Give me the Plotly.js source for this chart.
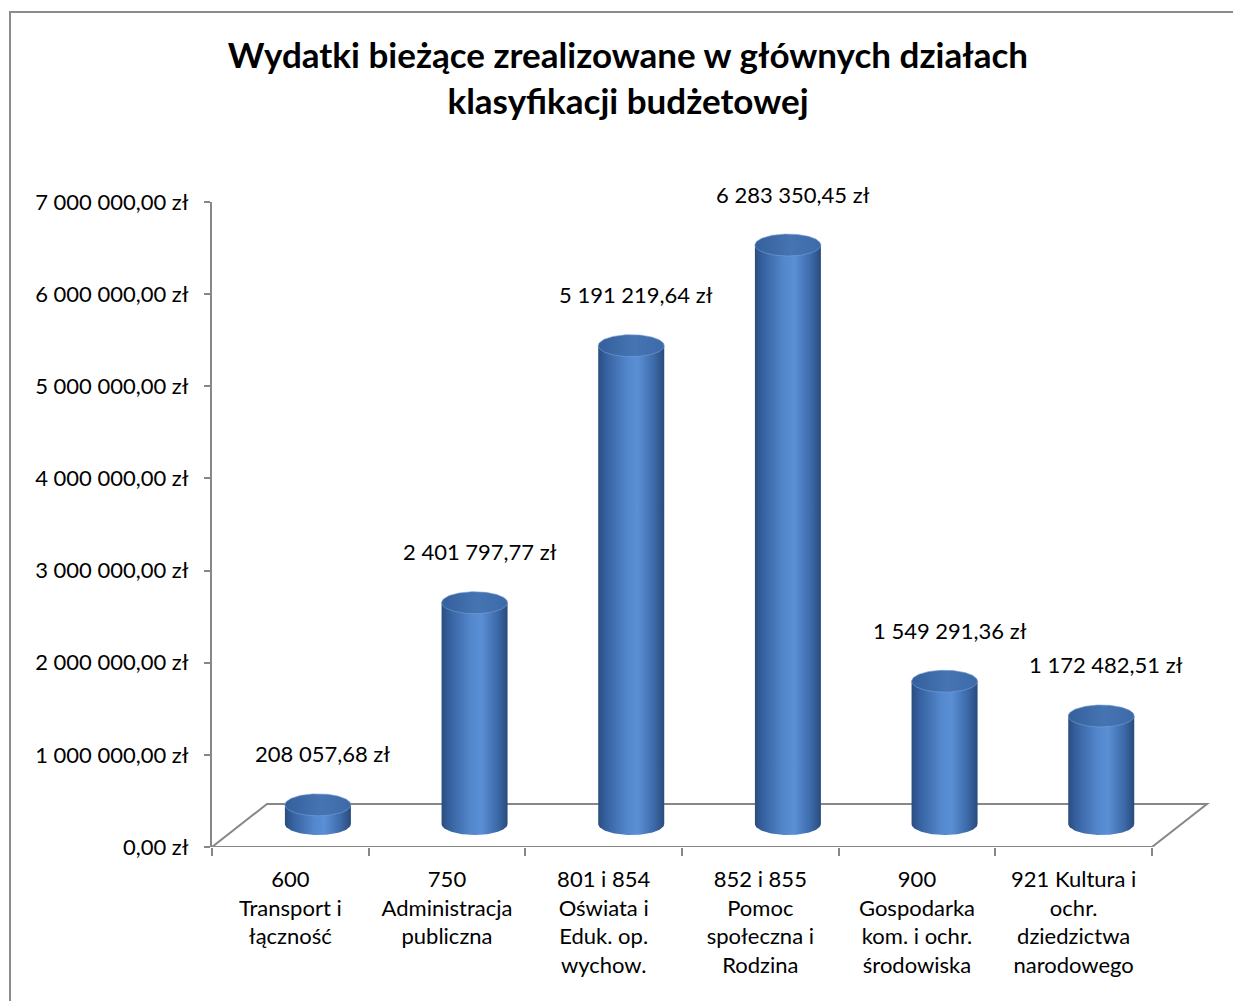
<!DOCTYPE html>
<html>
<head>
<meta charset="utf-8">
<script src="https://cdn.plot.ly/plotly-3.0.1.min.js"></script>
<style>html,body{margin:0;padding:0;background:#fff;}</style>
</head>
<body>
<div id="chart" style="width:1233px;height:1001px;"></div>
<script>
// ---- data ----
const categories = [
  "600<br>Transport i<br>łączność",
  "750<br>Administracja<br>publiczna",
  "801 i 854<br>Oświata i<br>Eduk. op.<br>wychow.",
  "852 i 855<br>Pomoc<br>społeczna i<br>Rodzina",
  "900<br>Gospodarka<br>kom. i ochr.<br>środowiska",
  "921 Kultura i<br>ochr.<br>dziedzictwa<br>narodowego"
];
const values = [208057.68, 2401797.77, 5191219.64, 6283350.45, 1549291.36, 1172482.51];
const yTickValues = [0, 1000000, 2000000, 3000000, 4000000, 5000000, 6000000, 7000000];
const titleText = "Wydatki bieżące zrealizowane w głównych działach<br>klasyfikacji budżetowej";

// ---- geometry (layout constants) ----
const W = 1233, H = 1001;
const M = {l: 212, r: 23, t: 202, b: 154};
const plotW = W - M.l - M.r, plotH = H - M.t - M.b;
const catPx = 940 / categories.length;
const xMax = -0.5 + plotW / catPx;
const yMax = 7000000;
const pxPerY = plotH / yMax;
const DX_BACK = 55 / catPx, DY_BACK = 43 / pxPerY;
const DX_MID = 0.176, DY_MID = 23 / pxPerY;
const HALF_W = 33 / catPx, RY = 11 / pxPerY;

function fmt(v) {
  const parts = v.toFixed(2).split('.');
  return parts[0].replace(/\B(?=(\d{3})+(?!\d))/g, ' ') + ',' + parts[1] + ' zł';
}

const bodyScale = [[0, '#2a4d7e'], [0.12, '#3661a0'], [0.45, '#5488cd'], [0.6, '#5a8fd5'], [0.85, '#3c69a8'], [1, '#294b7c']];
const topScale = [[0, '#34609b'], [0.55, '#4674b3'], [1, '#3d6aa7']];

const traces = [];
const N = 72;
values.forEach((v, i) => {
  const cx = i + DX_MID, base = DY_MID, top = DY_MID + v;
  const bx = [cx - HALF_W, cx + HALF_W], by = [top, top];
  for (let k = 0; k <= N; k++) {
    const th = Math.PI * k / N;
    bx.push(cx + HALF_W * Math.cos(th));
    by.push(base - RY * Math.sin(th));
  }
  bx.push(cx - HALF_W); by.push(top);
  traces.push({
    type: 'scatter', mode: 'lines', x: bx, y: by, fill: 'toself',
    fillgradient: {type: 'horizontal', colorscale: bodyScale},
    line: {width: 0}, hoverinfo: 'skip', showlegend: false
  });
  const tx = [], ty = [];
  for (let k = 0; k <= 2 * N; k++) {
    const th = Math.PI * k / N;
    tx.push(cx + HALF_W * Math.cos(th));
    ty.push(top + RY * Math.sin(th));
  }
  traces.push({
    type: 'scatter', mode: 'lines', x: tx, y: ty, fill: 'toself',
    fillgradient: {type: 'horizontal', colorscale: topScale},
    line: {width: 1, color: 'rgba(120,160,215,0.6)'}, hoverinfo: 'skip', showlegend: false
  });
});
traces.push({type: 'scatter', x: [-0.5, 5.5], y: [0, 0], xaxis: 'x2', mode: 'none', hoverinfo: 'skip', showlegend: false});

const font = 'Lato, "Open Sans", sans-serif';
const FS = 22;
const annotations = values.map((v, i) => ({
  x: i + DX_MID, y: DY_MID + v, xref: 'x', yref: 'y',
  text: fmt(v), showarrow: false, yanchor: 'middle', xanchor: 'center',
  yshift: 51, xshift: 5, font: {family: font, size: FS, color: '#000'}
}));

const gray = '#878787';
const floorPath =
  'M -0.5,0 L ' + (-0.5 + DX_BACK) + ',' + DY_BACK +
  ' L ' + (5.5 + DX_BACK) + ',' + DY_BACK +
  ' L 5.5,0 Z';

const layout = {
  width: W, height: H,
  margin: M,
  paper_bgcolor: '#fff', plot_bgcolor: 'rgba(0,0,0,0)',
  separators: ', ',
  font: {family: font, size: FS, color: '#000'},
  title: {
    text: titleText, x: 628 / W, xref: 'container', xanchor: 'center',
    y: 1 - 68 / H, yref: 'container', yanchor: 'middle',
    font: {family: font, size: 35, color: '#000', weight: 'bold'}
  },
  xaxis: {
    range: [-0.5, xMax], tickmode: 'array', tickvals: categories.map((c, i) => i),
    ticktext: categories, ticks: '', showline: false, showgrid: false, zeroline: false,
    ticklabelstandoff: 17, tickfont: {family: font, size: FS, color: '#000'}
  },
  xaxis2: {
    overlaying: 'x', anchor: 'y', side: 'bottom', range: [-0.5, xMax],
    tickmode: 'array', tickvals: [-0.5, 0.5, 1.5, 2.5, 3.5, 4.5, 5.5],
    ticks: 'outside', ticklen: 8, tickwidth: 2, tickcolor: gray,
    showticklabels: false, showline: false, showgrid: false, zeroline: false
  },
  yaxis: {
    range: [0, yMax], tickmode: 'array', tickvals: yTickValues,
    ticktext: yTickValues.map(fmt),
    ticks: 'outside', ticklen: 6, tickwidth: 2, tickcolor: gray,
    showline: true, linecolor: gray, linewidth: 2,
    showgrid: false, zeroline: false, ticklabelstandoff: 11,
    tickfont: {family: font, size: FS, color: '#000'}
  },
  shapes: [
    {type: 'path', xref: 'x', yref: 'y', path: floorPath, line: {color: gray, width: 2}, layer: 'below'},
    {type: 'rect', xref: 'paper', yref: 'paper',
     x0: (10 - M.l) / plotW, x1: (W + 20 - M.l) / plotW,
     y0: (M.t + plotH - (H + 20)) / plotH, y1: (M.t + plotH - 12) / plotH,
     line: {color: '#8c8c8c', width: 2}, fillcolor: 'rgba(0,0,0,0)', layer: 'below'}
  ],
  annotations: annotations
};

Plotly.newPlot('chart', traces, layout, {staticPlot: true, displayModeBar: false});
</script>
</body>
</html>
